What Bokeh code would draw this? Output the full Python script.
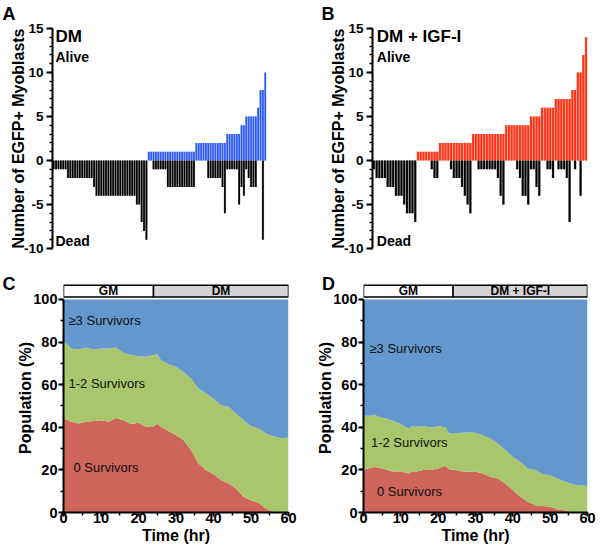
from bokeh.plotting import figure
from bokeh.layouts import column, row
from bokeh.models import Range1d, SingleIntervalTicker
from bokeh.embed import file_html
from bokeh.resources import INLINE
from bokeh.core.properties import value

# ---------------- data ----------------
# Panel A (DM): EGFP+ myoblasts alive / dead per cell lineage
alive_A = [0, 0, 0, 0, 0, 0, 0, 0, 0, 0, 0, 0, 0, 0, 0, 0, 0, 0, 0, 0,
           0, 0, 0, 0, 0, 0, 0, 0, 0, 0, 0, 0, 0, 0, 0, 0, 0, 0, 0, 0,
           1, 1, 1, 1, 1, 1, 1, 1, 1, 1, 1, 1, 1, 1, 1, 1, 1, 1, 1, 1,
           2, 2, 2, 2, 2, 2, 2, 2, 2, 2, 2, 2, 2,
           3, 3, 3, 3, 3, 3,
           4, 4,
           5, 5, 5, 5, 5,
           6,
           8, 8,
           10]
dead_A = [1, 1, 1, 1, 1, 1,
          2, 2, 2, 2, 2, 2, 2, 2, 2, 2, 2,
          3,
          4, 4, 4, 4, 4, 4, 4, 4, 4, 4, 4, 4, 4, 4, 4, 4, 4,
          5, 5, 7, 8, 9,
          0, 0,
          1, 1, 1, 1, 1, 1,
          3, 3, 3, 3, 3, 3, 3, 3, 3, 3, 3, 3,
          0, 0, 0, 0, 0,
          2, 2, 2, 2, 2, 2,
          3, 6,
          1, 1, 1, 1, 1,
          5, 3, 4, 1, 2,
          3, 3, 3,
          0, 0, 9, 0]

# Panel B (DM + IGF-I)
alive_B = [0, 0, 0, 0, 0, 0, 0, 0, 0, 0, 0, 0, 0, 0, 0, 0,
           1, 1, 1, 1, 1, 1, 1, 1,
           2, 2, 2, 2, 2, 2, 2, 2, 2, 2, 2, 2,
           3, 3, 3, 3, 3, 3, 3, 3, 3, 3, 3, 3,
           4, 4, 4, 4, 4, 4, 4, 4, 4,
           5, 5, 5, 5,
           6, 6, 6, 6, 6,
           7, 7, 7, 7, 7, 7,
           8, 8,
           10, 10,
           12,
           14]
dead_B = [1, 2, 2, 2, 2, 3, 3, 3, 4, 4, 4, 5, 6, 6, 6, 7,
          0, 0, 0, 0, 0, 1, 2, 2,
          0, 0, 0, 0, 1, 2, 2, 2, 3, 4, 5, 6,
          0, 0, 1, 1, 1, 1, 1, 1, 1, 2, 4, 5,
          0, 0, 0, 0, 1, 2, 4, 4, 5,
          1, 1, 3, 4,
          0, 0, 1, 1, 2,
          0, 1, 1, 1, 2, 7,
          0, 1,
          0, 4,
          0,
          0]

bar_y_ticks = [-10, -5, 0, 5, 10, 15]

# Panel C (DM): cumulative population (%) with 0 survivors and with <=2 survivors
time_C = [0, 1, 2, 4, 6, 8, 10, 12, 14, 16, 18, 20, 22, 24, 25, 26, 28, 30, 32, 34,
          36, 38, 40, 42, 44, 46, 48, 50, 52, 54, 55, 56, 57, 58, 60]
zero_C = [44.1, 43.5, 42.6, 41.8, 42.6, 43.0, 43.3, 42.6, 44.4, 43.3, 41.5, 42.1, 40.2, 40.5,
          41.5, 40.2, 38.3, 36.3, 34.0, 29.3, 23.0, 19.9, 18.0, 15.2, 13.6, 11.3, 7.4, 5.8,
          4.5, 1.9, 1.0, 0.3, 0.0, 0.0, 0.0]
upto2_C = [80.1, 79.0, 77.0, 76.5, 77.5, 76.5, 77.0, 77.0, 77.5, 75.0, 73.9, 73.4, 73.1, 73.9,
           74.3, 71.5, 69.6, 68.4, 66.0, 62.9, 58.2, 55.9, 53.5, 50.4, 49.6, 46.5, 43.3, 40.5,
           39.4, 37.1, 36.3, 35.8, 35.5, 34.7, 35.2]

# Panel D (DM + IGF-I)
time_D = [0, 2, 3, 4, 6, 8, 10, 12, 13, 14, 16, 18, 20, 21, 22, 23, 24, 26, 28, 30,
          32, 34, 36, 38, 40, 42, 44, 46, 48, 50, 52, 54, 56, 58, 60]
zero_D = [19.9, 21.1, 21.4, 21.1, 20.2, 19.1, 19.4, 18.3, 19.4, 19.1, 19.9, 19.9, 20.7, 21.4,
          21.8, 20.2, 20.2, 19.4, 19.1, 19.1, 18.3, 16.7, 16.0, 13.6, 10.5, 7.4, 5.0, 3.4,
          3.1, 2.7, 1.4, 1.1, 0.0, 0.0, 0.0]
upto2_D = [45.4, 45.4, 46.0, 44.9, 44.1, 43.0, 41.5, 39.4, 40.5, 40.2, 40.5, 39.9, 40.5, 40.3,
           39.9, 37.1, 37.1, 37.4, 37.6, 37.4, 36.3, 34.7, 32.4, 29.3, 26.1, 23.8, 20.7, 19.9,
           18.0, 17.5, 16.0, 14.4, 13.3, 12.8, 12.4]

phase_start = [0, 24]
phase_end = [24, 60]
phase_names_C = ["GM", "DM"]
phase_names_D = ["GM", "DM + IGF-I"]
area_labels = ["\u22653 Survivors", "1-2 Survivors", "0 Survivors"]

# ---------------- styling ----------------
FONT = "Liberation Sans"
W, H = 300, 273
BLUE_BAR, BLUE_LIGHT = "#2d5bf5", "#a9bcff"
RED_BAR, RED_LIGHT = "#ff3214", "#ffa696"
BLK_BAR, BLK_LIGHT = "#000000", "#a8a8a8"
C_RED, C_GREEN, C_BLUE = "#cd655a", "#a9c66d", "#6497cc"


def set_letter(p, txt, offset, standoff, valign):
    t = p.title
    t.text = txt
    t.align = "left"
    t.offset = offset
    t.standoff = standoff
    t.vertical_align = valign
    t.text_font = FONT
    t.text_font_style = "bold"
    t.text_font_size = "18px"
    t.text_color = "black"


def style_axis(ax, label, tick_font, major_out, minor_out, std, lab_std):
    ax.axis_label = label
    ax.axis_label_text_font = FONT
    ax.axis_label_text_font_style = "bold"
    ax.axis_label_text_font_size = "16px"
    ax.axis_label_text_color = "black"
    ax.axis_label_standoff = lab_std
    ax.major_label_text_font = FONT
    ax.major_label_text_font_style = "bold"
    ax.major_label_text_font_size = "%.1fpx" % tick_font
    ax.major_label_text_color = "black"
    ax.major_label_standoff = std
    ax.axis_line_width = 2
    ax.axis_line_color = "black"
    ax.major_tick_line_width = 2
    ax.minor_tick_line_width = 1.5
    ax.major_tick_line_color = "black"
    ax.minor_tick_line_color = "black"
    ax.major_tick_in = 0
    ax.minor_tick_in = 0
    ax.major_tick_out = major_out
    ax.minor_tick_out = minor_out


def bar_panel(alive, dead, col, light, let, let_off, title, title_x, left, right):
    n = len(alive)
    p = figure(width=W, height=H, x_range=Range1d(-0.5, n - 0.5), y_range=Range1d(-10, 15),
               output_backend="svg", toolbar_location=None, x_axis_location=None,
               min_border_left=left, min_border_right=right, min_border_top=28,
               min_border_bottom=25)
    p.grid.visible = False
    p.outline_line_color = None
    xs = list(range(n))
    neg = [-d for d in dead]
    p.vbar(x=xs, top=alive, bottom=0, width=1.0, fill_color=light, line_color=None)
    p.vbar(x=xs, top=alive, bottom=0, width=0.7, fill_color=col, line_color=None)
    p.vbar(x=xs, top=0, bottom=neg, width=1.0, fill_color=BLK_LIGHT, line_color=None)
    p.vbar(x=xs, top=0, bottom=neg, width=0.7, fill_color=BLK_BAR, line_color=None)
    ax = p.yaxis[0]
    ax.ticker = SingleIntervalTicker(interval=5, num_minor_ticks=5)
    ax.bounds = (bar_y_ticks[0], bar_y_ticks[-1])
    ax.major_label_overrides = {v: str(v) for v in bar_y_ticks}
    style_axis(ax, "Number of EGFP+ Myoblasts", 13.5, 6, 3, 3, -6)
    p.text(x=[title_x], y=[14.07], text=[title], text_font=value(FONT), text_font_style="bold",
           text_font_size="17px", text_baseline="middle", text_align="left", text_color="black")
    p.text(x=[title_x, title_x], y=[11.75, -9.11], text=["Alive", "Dead"], text_font=value(FONT),
           text_font_style="bold", text_font_size="14px", text_baseline="middle",
           text_align="left", text_color="black")
    set_letter(p, let, let_off, 5, "top")
    return p


def area_panel(t, zero, upto2, names, let, let_off, lab_pos, left, right):
    p = figure(width=W, height=H, x_range=Range1d(0, 60), y_range=Range1d(0, 107.5),
               output_backend="svg", toolbar_location=None,
               min_border_left=left, min_border_right=right, min_border_top=10,
               min_border_bottom=34)
    p.grid.visible = False
    p.outline_line_color = None
    p.varea(x=t, y1=0, y2=zero, fill_color=C_RED)
    p.varea(x=t, y1=zero, y2=upto2, fill_color=C_GREEN)
    p.varea(x=t, y1=upto2, y2=100, fill_color=C_BLUE)
    # treatment header
    p.quad(left=phase_start, right=phase_end, bottom=101.2, top=106.7,
           fill_color=["white", "#d4d4d4"], line_color="black", line_width=1.5)
    mids = [(a + b) / 2 for a, b in zip(phase_start, phase_end)]
    p.text(x=mids, y=[104.0, 104.0], text=names, text_font=value(FONT), text_font_style="bold",
           text_font_size="12px", text_baseline="middle", text_align="center", text_color="black")
    xs = [q[0] for q in lab_pos]
    ys = [q[1] for q in lab_pos]
    p.text(x=xs, y=ys, text=area_labels, text_font=value(FONT), text_font_size="13px",
           text_baseline="middle", text_align="left", text_color="#111111")
    ya = p.yaxis[0]
    ya.ticker = SingleIntervalTicker(interval=20, num_minor_ticks=2)
    ya.bounds = (0, 100)
    style_axis(ya, "Population (%)", 14.5, 5, 3, 1, -4)
    xa = p.xaxis[0]
    xa.ticker = SingleIntervalTicker(interval=10, num_minor_ticks=2)
    style_axis(xa, "Time (hr)", 14.5, 4, 3, -4, 1)
    set_letter(p, let, let_off, -21, "bottom")
    return p


pA = bar_panel(alive_A, dead_A, BLUE_BAR, BLUE_LIGHT, "A", -50, "DM", 0.76, 52, 34)
pB = bar_panel(alive_B, dead_B, RED_BAR, RED_LIGHT, "B", -51, "DM + IGF-I", 1.06, 72, 13)
pC = area_panel(time_C, zero_C, upto2_C, phase_names_C, "C", -61,
                [(1.33, 90.3), (1.33, 60.6), (2.67, 21.1)], 63, 12)
pD = area_panel(time_D, zero_D, upto2_D, phase_names_D, "D", -41.5,
                [(1.6, 77.0), (2.0, 32.7), (3.6, 9.7)], 63, 13)

layout = column(row(pA, pB, spacing=0), row(pC, pD, spacing=0), spacing=0)

open("out.html", "w").write(file_html(layout, INLINE))
